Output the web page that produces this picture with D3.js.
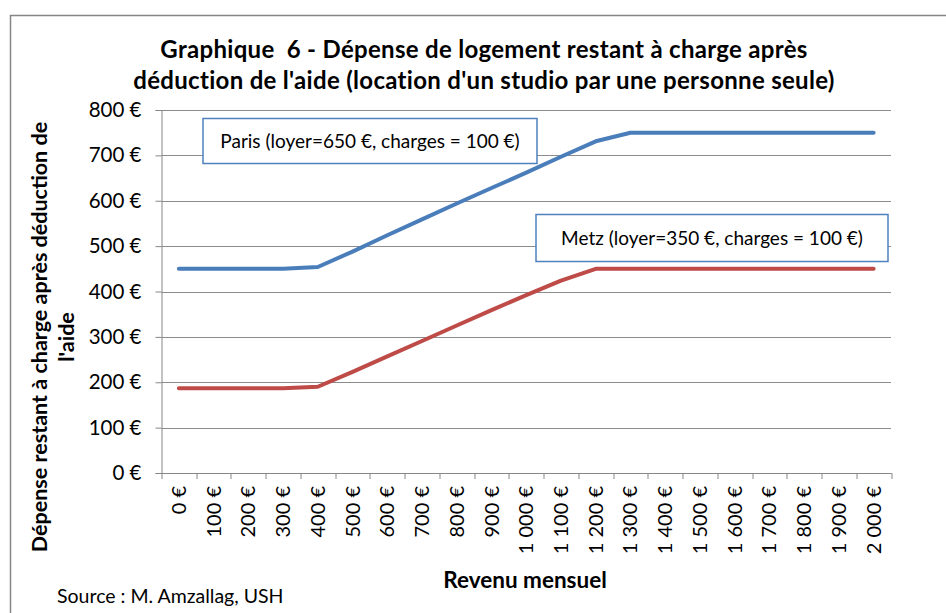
<!DOCTYPE html>
<html>
<head>
<meta charset="utf-8">
<script src="https://cdn.jsdelivr.net/npm/d3@7"></script>
<style>
  body { margin: 0; background: #fff; }
  text { font-family: Lato, "Open Sans", sans-serif; fill: #000; white-space: pre; }
</style>
</head>
<body>
<div id="chart"></div>
<script>
// revenue categories (x axis) and tick labels
var revenus = [0, 100, 200, 300, 400, 500, 600, 700, 800, 900, 1000,
  1100, 1200, 1300, 1400, 1500, 1600, 1700, 1800, 1900, 2000];
var revenuLabels = ["0 €", "100 €", "200 €", "300 €", "400 €", "500 €", "600 €",
  "700 €", "800 €", "900 €", "1 000 €", "1 100 €", "1 200 €", "1 300 €", "1 400 €",
  "1 500 €", "1 600 €", "1 700 €", "1 800 €", "1 900 €", "2 000 €"];

// remaining housing cost after aid
var paris = [450, 450, 450, 450, 454, 488, 524, 559, 594, 628, 662,
  697, 731, 750, 750, 750, 750, 750, 750, 750, 750];
var metz = [187, 187, 187, 187, 190, 223, 257, 291, 325, 359, 392,
  424, 450, 450, 450, 450, 450, 450, 450, 450, 450];

var yTicks = [0, 100, 200, 300, 400, 500, 600, 700, 800];

var titleLines = ["Graphique  6 - Dépense de logement restant à charge après",
  "déduction de l'aide (location d'un studio par une personne seule)"];
var yTitleLines = ["Dépense restant à charge après déduction de", "l'aide"];
var xTitle = "Revenu mensuel";
var source = "Source : M. Amzallag, USH";
var parisLabel = "Paris (loyer=650 €, charges = 100 €)";
var metzLabel = "Metz (loyer=350 €, charges = 100 €)";

var W = 946, H = 613;
var margin = { top: 110, right: 55, bottom: 140, left: 161.5 };
var width = W - margin.left - margin.right,
    height = H - margin.top - margin.bottom;

var svg = d3.select("#chart").append("svg")
  .attr("width", W)
  .attr("height", H);

// outer frame of the chart
svg.append("rect")
  .attr("x", 10.5).attr("y", 15.5)
  .attr("width", W).attr("height", H)
  .style("fill", "none")
  .style("stroke", "#868686")
  .style("stroke-width", 1.5);

var g = svg.append("g")
  .attr("transform", "translate(" + margin.left + "," + margin.top + ")");

// scales
var x = d3.scaleBand().domain(revenus).range([0, width]).padding(0);
var y = d3.scaleLinear().domain([0, 800]).range([height, 0]);

// gridlines
g.append("g")
  .attr("class", "grid")
  .selectAll("line")
  .data(yTicks.filter(function (d) { return d > 0; }))
  .enter().append("line")
  .attr("x1", 0).attr("x2", width)
  .attr("y1", function (d) { return Math.round(y(d)) + 0.5; })
  .attr("y2", function (d) { return Math.round(y(d)) + 0.5; })
  .style("stroke", "#8c8c8c")
  .style("stroke-width", 1);

// y axis
var yAxis = g.append("g")
  .call(d3.axisLeft(y).tickValues(yTicks).tickSize(6).tickPadding(14)
    .tickFormat(function (d) { return d + " €"; }));
yAxis.select(".domain").style("stroke", "#868686");
yAxis.selectAll(".tick line").style("stroke", "#868686");
yAxis.selectAll("text")
  .style("font-size", "20.5px")
  .style("font-family", "Lato, sans-serif")
  .style("fill", "#000");

// x axis: labels at category centres, ticks on category boundaries
var xAxis = g.append("g")
  .attr("transform", "translate(0," + height + ")")
  .call(d3.axisBottom(x).tickSize(0).tickFormat(function (d, i) { return revenuLabels[i]; }));
xAxis.select(".domain").style("stroke", "#868686");
xAxis.selectAll("text")
  .attr("transform", "rotate(-90)")
  .attr("x", -13)
  .attr("y", 0)
  .attr("dy", "0.35em")
  .style("text-anchor", "end")
  .style("font-size", "20px")
  .style("font-family", "Lato, sans-serif")
  .style("fill", "#000");

var bounds = revenus.map(function (d) { return x(d); }).concat([width]);
g.append("g")
  .selectAll("line")
  .data(bounds)
  .enter().append("line")
  .attr("x1", function (d) { return Math.round(d) + 0.5; })
  .attr("x2", function (d) { return Math.round(d) + 0.5; })
  .attr("y1", height).attr("y2", height + 6)
  .style("stroke", "#868686");

// series lines
var line = d3.line()
  .x(function (d, i) { return x(revenus[i]) + x.bandwidth() / 2; })
  .y(function (d) { return y(d); });

g.append("path")
  .datum(paris)
  .attr("d", line)
  .style("fill", "none")
  .style("stroke", "#4A7EBB")
  .style("stroke-width", 4)
  .style("stroke-linejoin", "round")
  .style("stroke-linecap", "round");

g.append("path")
  .datum(metz)
  .attr("d", line)
  .style("fill", "none")
  .style("stroke", "#BE4B48")
  .style("stroke-width", 4)
  .style("stroke-linejoin", "round")
  .style("stroke-linecap", "round");

// annotation boxes
function labelBox(x0, y0, w, h, txt) {
  svg.append("rect")
    .attr("x", x0).attr("y", y0)
    .attr("width", w).attr("height", h)
    .style("fill", "#fff")
    .style("stroke", "#4F81BD")
    .style("stroke-width", 1.5);
  svg.append("text")
    .attr("x", x0 + w / 2).attr("y", y0 + h / 2)
    .attr("dy", "0.35em")
    .style("text-anchor", "middle")
    .style("font-size", "19px")
    .text(txt);
}
labelBox(203, 118.5, 334, 45, parisLabel);
labelBox(536, 214.5, 352, 47, metzLabel);

// title
svg.append("g").selectAll("text")
  .data(titleLines)
  .enter().append("text")
  .attr("x", 484)
  .attr("y", function (d, i) { return 58 + i * 31; })
  .style("text-anchor", "middle")
  .style("font-size", "24px")
  .style("letter-spacing", "0.3px")
  .style("font-weight", "bold")
  .text(function (d) { return d; });

// y axis title
svg.append("g").selectAll("text")
  .data(yTitleLines)
  .enter().append("text")
  .attr("transform", function (d, i) {
    return "translate(" + (47 + i * 27) + ",337) rotate(-90)";
  })
  .style("text-anchor", "middle")
  .style("font-size", "21.5px")
  .style("font-weight", "bold")
  .text(function (d) { return d; });

// x axis title
svg.append("text")
  .attr("x", 525).attr("y", 588)
  .style("text-anchor", "middle")
  .style("font-size", "22.5px")
  .style("font-weight", "bold")
  .text(xTitle);

// source
svg.append("text")
  .attr("x", 57).attr("y", 603)
  .style("font-size", "19.5px")
  .text(source);
</script>
</body>
</html>
